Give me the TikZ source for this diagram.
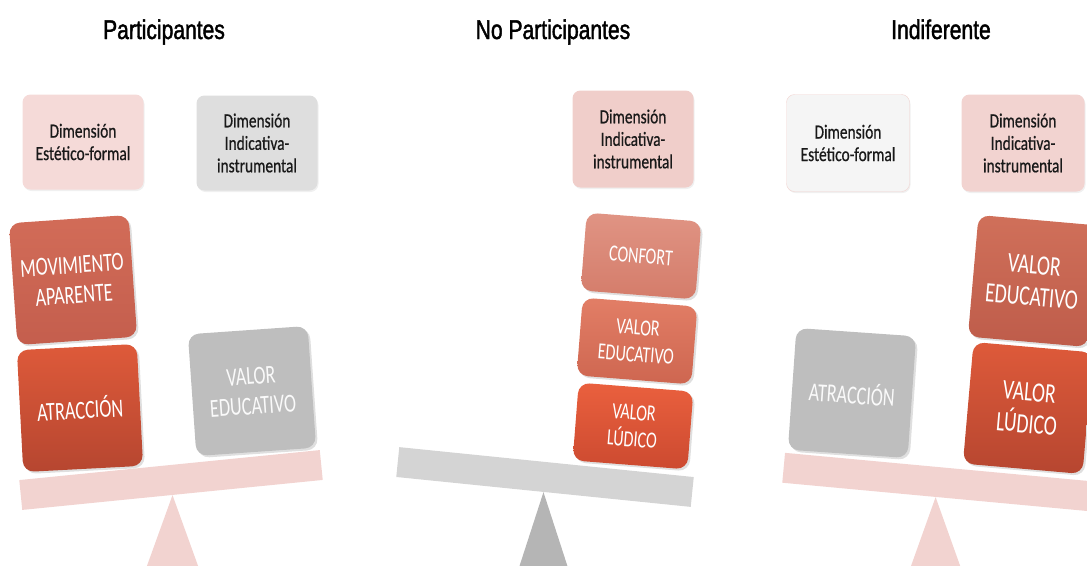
\documentclass[tikz,border=0pt]{standalone}
\usepackage{fontspec}
\newfontfamily\titlefont[FakeStretch=0.78, FakeBold=1.6]{Liberation Sans}
\newfontfamily\dimfont[FakeStretch=0.77, FakeBold=0.6]{Carlito}
\newfontfamily\pesofont[FakeStretch=0.70]{Carlito}
\usetikzlibrary{shadows}

\definecolor{rosa}{HTML}{F2D3D0}
\definecolor{rosaclaro}{HTML}{F5DAD8}
\definecolor{grisbox}{HTML}{DEDEDE}
\definecolor{grispeso}{HTML}{BEBEBE}
\definecolor{grisbarra}{HTML}{D4D4D4}
\definecolor{grispie}{HTML}{B5B5B5}

\begin{document}
\begin{tikzpicture}[x=1pt, y=-1pt,
  titulo/.style={anchor=base, font=\titlefont\fontsize{27}{30}\selectfont},
  dimbox/.style={
    rounded corners=8pt, fill=rosa,
    minimum width=121pt, minimum height=95pt,
    align=center, text=black!90,
    font=\dimfont\fontsize{20}{22.5}\selectfont,
    drop shadow={opacity=0.12, shadow xshift=1pt, shadow yshift=-1.5pt}
  },
  peso/.style={
    rounded corners=11pt, inner sep=0pt,
    minimum width=120pt, minimum height=122pt,
    align=center, text=white,
    font=\pesofont\fontsize{26}{30}\selectfont,
    drop shadow={opacity=0.25, shadow xshift=2pt, shadow yshift=-2pt}
  },
  pesogris/.style={peso, fill=grispeso, text=white!92!grispeso},
  barra/.style={minimum width=302pt, minimum height=30pt, inner sep=0pt}
]
  \useasboundingbox (0,0) rectangle (1087,565);
  \clip (0,0) rectangle (1087,565);

  % Participantes
  \node[titulo] (tA) at (164,39) {Participantes};
  \node[dimbox, fill=rosaclaro] (dA1) at (83,142) {Dimensión\\Estético-formal};
  \node[dimbox, fill=grisbox] (dA2) at (257,143) {Dimensión\\Indicativa-\\instrumental};
  \node[barra, fill=rosa, rotate=5.7] (barraA) at (171,480) {};
  \fill[rosa] (barraA.south) -- ++(-26,72) -- ++(52,0) -- cycle;
  \node[peso, rotate=4, top color={rgb,255:red,210;green,108;blue,88},
    bottom color={rgb,255:red,196;green,94;blue,77}] (mov) at (73,280) {MOVIMIENTO\\APARENTE};
  \node[peso, rotate=3, top color={rgb,255:red,222;green,90;blue,58},
    bottom color={rgb,255:red,182;green,70;blue,48}] (atrA) at (80,408) {ATRACCIÓN};
  \node[pesogris, rotate=4] (eduA) at (252,391) {VALOR\\EDUCATIVO};

  % No Participantes
  \node[titulo] (tB) at (553,39) {No Participantes};
  \node[dimbox, fill={rgb,255:red,240;green,206;blue,202}, minimum height=97pt] (dB) at (633,139) {Dimensión\\Indicativa-\\instrumental};
  \node[barra, fill=grisbarra, rotate=-5.8, minimum width=296pt] (barraB) at (545,477) {};
  \fill[grispie] (barraB.south) -- ++(-24,74) -- ++(48,0) -- cycle;
  \node[peso, rotate=-4.5, minimum width=115pt, minimum height=78pt,
    font=\pesofont\fontsize{23}{27}\selectfont,
    top color={rgb,255:red,224;green,148;blue,132}, bottom color={rgb,255:red,212;green,124;blue,106}] (conf) at (641,256) {CONFORT};
  \node[peso, rotate=-4.5, minimum width=115pt, minimum height=78pt,
    font=\pesofont\fontsize{23}{27}\selectfont,
    top color={rgb,255:red,226;green,126;blue,102}, bottom color={rgb,255:red,206;green,102;blue,80}] (eduB) at (637,341) {VALOR\\EDUCATIVO};
  \node[peso, rotate=-4.5, minimum width=115pt, minimum height=78pt,
    font=\pesofont\fontsize{23}{27}\selectfont,
    top color={rgb,255:red,234;green,96;blue,62}, bottom color={rgb,255:red,204;green,74;blue,48}] (ludB) at (633,426) {VALOR\\LÚDICO};

  % Indiferente
  \node[titulo] (tC) at (941,39) {Indiferente};
  \node[dimbox, fill=black!4, draw=rosa, minimum width=123pt, minimum height=97pt] (dC1) at (848,143) {Dimensión\\Estético-formal};
  \node[dimbox, minimum width=123pt, minimum height=97pt] (dC2) at (1023,143) {Dimensión\\Indicativa-\\instrumental};
  \node[barra, fill=rosa, rotate=-5.3, minimum width=308pt] (barraC) at (937,482) {};
  \fill[rosa] (barraC.south) -- ++(-25,70) -- ++(50,0) -- cycle;
  \node[pesogris, rotate=-4] (atrC) at (852,393) {ATRACCIÓN};
  \node[peso, rotate=-5, font=\pesofont\fontsize{28}{32}\selectfont,
    top color={rgb,255:red,208;green,112;blue,90}, bottom color={rgb,255:red,190;green,92;blue,74}] (eduC) at (1033,281) {VALOR\\EDUCATIVO};
  \node[peso, rotate=-5, font=\pesofont\fontsize{28}{32}\selectfont,
    top color={rgb,255:red,222;green,90;blue,58}, bottom color={rgb,255:red,182;green,70;blue,48}] (ludC) at (1028,408) {VALOR\\LÚDICO};
\end{tikzpicture}
\end{document}
